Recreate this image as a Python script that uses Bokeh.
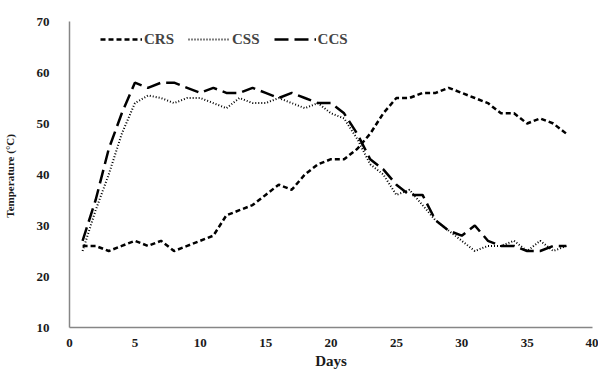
from bokeh.plotting import figure
from bokeh.models import Range1d, Legend, LegendItem, FixedTicker
from bokeh.embed import file_html
from bokeh.resources import INLINE

days = list(range(1, 39))
crs = [26, 26, 25, 26, 27, 26, 27, 25, 26, 27, 28, 32, 33, 34, 36, 38, 37, 40, 42, 43,
       43, 45, 48, 52, 55, 55, 56, 56, 57, 56, 55, 54, 52, 52, 50, 51, 50, 48]
css = [25, 33, 40, 48, 54, 55.5, 55, 54, 55, 55, 54, 53, 55, 54, 54, 55, 54, 53, 54, 52,
       51, 47, 42, 40, 36, 37, 34, 31, 29, 27, 25, 26, 26, 27, 25, 27, 25, 26]
ccs = [27, 35, 45, 52, 58, 57, 58, 58, 57, 56, 57, 56, 56, 57, 56, 55, 56, 55, 54, 54,
       52, 48, 43, 41, 38, 36, 36, 31, 29, 28, 30, 27, 26, 26, 25, 25, 26, 26]
x_ticks = [0, 5, 10, 15, 20, 25, 30, 35, 40]
y_ticks = [10, 20, 30, 40, 50, 60, 70]

p = figure(width=598, height=371, output_backend="svg", toolbar_location=None,
           x_range=Range1d(0, 40), y_range=Range1d(10, 70),
           min_border_left=66, min_border_right=6, min_border_top=21, min_border_bottom=40)
p.outline_line_color = None
p.grid.visible = False

font = "Liberation Serif"
l1 = p.line(days, crs, line_color="black", line_width=2.5, line_dash="5 3")
l2 = p.line(days, css, line_color="black", line_width=2, line_dash="1 2")
l3 = p.line(days, ccs, line_color="black", line_width=2.5, line_dash="14 6")

for ax in (p.xaxis[0], p.yaxis[0]):
    ax.axis_line_color = "#868686"
    ax.axis_line_width = 1.5
    ax.major_tick_line_color = None
    ax.minor_tick_line_color = None
    ax.major_label_text_font = font
    ax.major_label_text_font_style = "bold"
    ax.major_label_text_font_size = "13px"
    ax.major_label_text_color = "#1a1a1a"
    ax.axis_label_text_font = font
    ax.axis_label_text_font_style = "bold"
    ax.axis_label_text_color = "#1a1a1a"

p.xaxis.ticker = FixedTicker(ticks=x_ticks)
p.yaxis.ticker = FixedTicker(ticks=y_ticks)
p.xaxis.axis_label = "Days"
p.xaxis.axis_label_text_font_size = "15px"
p.xaxis.axis_label_standoff = 3
p.xaxis.major_label_standoff = 5
p.yaxis.axis_label = "Temperature  (°C)"
p.yaxis.axis_label_text_font_size = "11px"
p.yaxis.axis_label_standoff = 18
p.yaxis.major_label_standoff = 14

legend = Legend(items=[LegendItem(label="CRS", renderers=[l1]),
                       LegendItem(label="CSS", renderers=[l2]),
                       LegendItem(label="CCS", renderers=[l3])],
                orientation="horizontal", location=(31, 278))
legend.border_line_color = None
legend.background_fill_alpha = 0
legend.glyph_width = 42
legend.label_text_font = font
legend.label_text_font_style = "bold"
legend.label_text_font_size = "15px"
legend.label_standoff = 2
legend.spacing = 14
p.add_layout(legend)

open("out.html", "w").write(file_html(p, INLINE))
